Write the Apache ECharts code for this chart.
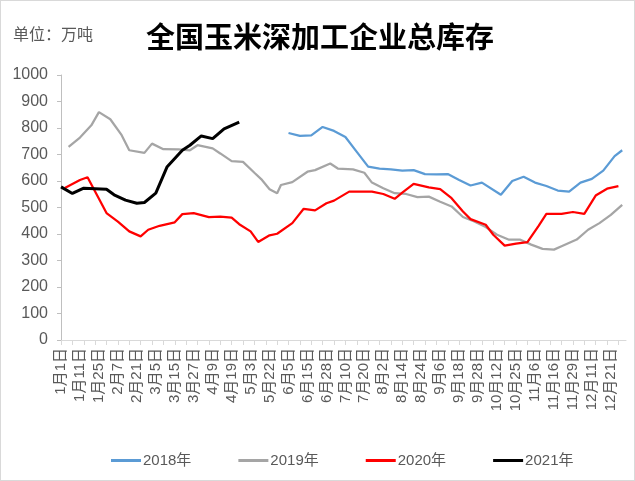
<!DOCTYPE html>
<html>
<head>
<meta charset="utf-8">
<script src="https://cdn.jsdelivr.net/npm/echarts@6/dist/echarts.min.js"></script>
<style>
html,body{margin:0;padding:0;background:#fff;}
#c{width:635px;height:481px;box-sizing:border-box;border:1px solid #d9d9d9;}
</style>
</head>
<body>
<div id="c"></div>
<script>
// Tick labels (every 5th category of a 150-category date axis)
var tickLabels = ['1月1日','1月11日','1月25日','2月7日','2月21日','3月5日','3月15日','3月27日','4月9日','4月19日',
  '5月3日','5月22日','6月5日','6月15日','6月28日','7月10日','7月20日','8月2日','8月14日','8月24日',
  '9月6日','9月18日','9月28日','10月12日','10月25日','11月6日','11月16日','11月29日','12月11日','12月21日'];
var categoryCount = 150;

// Series: category index and value (万吨)
var x2018 = [60,63,66,69,72,75,78,81,84,87,90,93,96,99,102,105,108,111,116,119,122,125,128,131,134,137,140,143,146,148];
var v2018 = [781,770,772,804,789,766,710,654,647,644,639,641,626,625,626,604,583,594,548,600,616,594,581,564,560,594,608,639,694,716];

var x2019 = [2,5,8,10,13,16,18,22,24,27,31,34,36,40,42,45,48,51,53,55,57,58,61,65,67,71,73,77,80,82,85,88,91,94,97,100,103,106,109,112,115,118,121,124,127,130,132,136,139,142,145,148];
var v2019 = [729,764,810,860,833,773,716,706,741,720,719,716,735,723,704,675,672,631,604,569,554,585,596,635,641,666,647,644,631,594,573,554,551,539,541,522,504,464,447,426,397,379,379,360,344,341,354,379,416,441,472,510];

var x2020 = [1,5,7,12,15,18,21,23,26,30,32,35,39,42,45,47,50,52,55,57,61,64,67,70,72,76,78,82,85,88,90,93,97,100,103,106,108,112,114,117,120,123,126,128,132,135,138,141,144,147];
var v2020 = [574,604,614,479,447,410,391,416,431,444,475,479,464,466,462,437,410,370,395,401,441,495,489,516,526,560,560,560,551,533,556,589,576,569,535,485,456,435,397,356,364,369,432,476,476,483,476,545,571,581];

var x2021 = [0,3,6,9,12,14,17,20,22,25,28,32,34,37,40,43,47];
var v2021 = [578,553,573,571,569,548,528,516,519,554,654,716,735,770,760,797,822];

var yTicks = [0,100,200,300,400,500,600,700,800,900,1000];

var categories = [];
for (var i = 0; i < categoryCount; i++) {
  categories.push(i % 5 === 0 && tickLabels[i / 5] ? tickLabels[i / 5] : '');
}
function pairs(xs, vs) { return xs.map(function (x, i) { return [x, vs[i]]; }); }

var font = "'Liberation Sans','Noto Sans CJK SC',sans-serif";
var chart = echarts.init(document.getElementById('c'), null, {renderer: 'canvas'});
function mk(name, color, width, xs, vs) {
  return {
    name: name, type: 'line', symbol: 'none', smooth: false,
    data: pairs(xs, vs),
    lineStyle: {color: color, width: width},
    itemStyle: {color: color},
    emphasis: {disabled: true}
  };
}
chart.setOption({
  animation: false,
  backgroundColor: '#fff',
  title: [
    {text: '全国玉米深加工企业总库存', left: 145, top: 21, padding: 0,
     textStyle: {fontFamily: "'Noto Sans CJK SC',sans-serif", fontSize: 29, fontWeight: 'bold', color: '#000'}},
    {text: '单位：万吨', left: 12, top: 25, padding: 0,
     textStyle: {fontFamily: "'Noto Sans CJK SC',sans-serif", fontSize: 16, fontWeight: 'normal', color: '#595959'}}
  ],
  legend: {
    left: 110, top: 452, padding: 0, itemWidth: 30, itemHeight: 3, itemGap: 47, icon: 'rect',
    textStyle: {fontFamily: font, fontSize: 15, color: '#595959', padding: [0, 0, 0, -3]},
    data: ['2018年','2019年','2020年','2021年']
  },
  grid: {left: 60, right: 8, top: 74, bottom: 140, containLabel: false},
  xAxis: {
    type: 'category', data: categories, boundaryGap: false,
    axisLine: {lineStyle: {color: '#d9d9d9', width: 1}},
    axisTick: {show: true, length: 5, lineStyle: {color: '#d9d9d9'},
      interval: function (i) { return i % 3 === 0; }},
    axisLabel: {rotate: 90, margin: 8, fontSize: 15, color: '#595959', fontFamily: font,
      interval: function (i) { return i % 5 === 0; }},
    splitLine: {show: false}
  },
  yAxis: {
    type: 'value', min: yTicks[0], max: yTicks[yTicks.length - 1], interval: 100,
    axisLine: {show: true, lineStyle: {color: '#bfbfbf', width: 1}},
    axisTick: {show: true, length: 4, lineStyle: {color: '#bfbfbf'}},
    axisLabel: {fontSize: 16, color: '#595959', margin: 13, fontFamily: font,
      formatter: function (v) { return String(v); }},
    splitLine: {show: false}
  },
  series: [
    mk('2018年', '#5b9bd5', 2.25, x2018, v2018),
    mk('2019年', '#a5a5a5', 2.25, x2019, v2019),
    mk('2020年', '#ff0000', 2.25, x2020, v2020),
    mk('2021年', '#000000', 3, x2021, v2021)
  ]
});
</script>
</body>
</html>
